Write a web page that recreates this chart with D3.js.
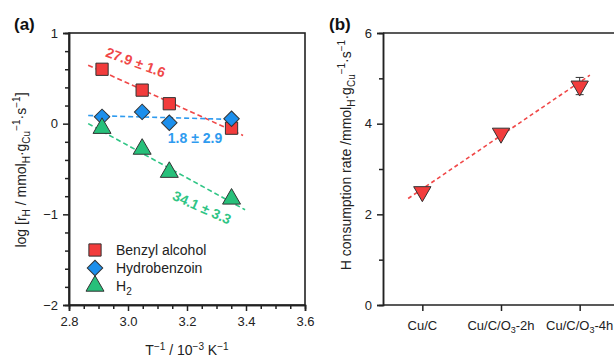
<!DOCTYPE html>
<html>
<head>
<meta charset="utf-8">
<script src="https://cdn.jsdelivr.net/npm/d3@7"></script>
<style>
  body { margin: 0; background: #fff; }
  svg { font-family: Arial, "Liberation Sans", sans-serif; }
</style>
</head>
<body>
<div id="chart"></div>
<script>
// panel (a): Arrhenius-type data
const invT = [2.912, 3.048, 3.14, 3.351];
const benzyl = [0.60, 0.37, 0.22, -0.05];
const hydrobenzoin = [0.075, 0.13, 0.01, 0.055];
const h2 = [-0.05, -0.28, -0.535, -0.83];
// fit line end points [x0, y0, x1, y1]
const fitBenzyl = [2.865, 0.645, 3.39, -0.13];
const fitHydro = [2.865, 0.09, 3.38, 0.045];
const fitH2 = [2.865, 0.0, 3.397, -0.95];
const seriesNames = ["Benzyl alcohol", "Hydrobenzoin", "H2"];

// panel (b): consumption rate
const catalysts = ["Cu/C", "Cu/C/O3-2h", "Cu/C/O3-4h"];
const rates = [2.5, 3.79, 4.83];
const rateErr = [0.05, 0.07, 0.19];
const fitRate = [-0.18, 2.35, 2.13, 5.07];

const W = 614, H = 360;
const svg = d3.select("#chart").append("svg").attr("width", W).attr("height", H);

const red = "#f23c3c", blue = "#1c8fec", green = "#27c07a";
const redL = "#f04848", blueL = "#2f9bef", greenL = "#2fc585";

// ---------- panel (a) ----------
const xa = d3.scaleLinear().domain([2.8, 3.6]).range([69, 305]);
const ya = d3.scaleLinear().domain([-2, 1]).range([305, 33]);
const ga = svg.append("g");

// frame
ga.append("rect").attr("x", 69).attr("y", 33).attr("width", 236).attr("height", 272)
  .attr("fill", "none").attr("stroke", "#222").attr("stroke-width", 1.6);

ga.append("g").attr("transform", "translate(0,305)")
  .call(d3.axisBottom(xa).tickValues([2.8, 3.0, 3.2, 3.4, 3.6]).tickFormat(d3.format(".1f")).tickSize(6).tickPadding(6));
ga.append("g").attr("transform", "translate(0,305)")
  .call(d3.axisBottom(xa).tickValues(d3.range(2.85, 3.6, 0.05).filter(v => Math.abs(v * 5 - Math.round(v * 5)) > 0.01)).tickFormat("").tickSize(4));
ga.append("g").attr("transform", "translate(69,0)")
  .call(d3.axisLeft(ya).tickValues([-2, -1, 0, 1]).tickFormat(d => d < 0 ? "\u2212" + Math.abs(d) : d).tickSize(6).tickPadding(5));
ga.append("g").attr("transform", "translate(69,0)")
  .call(d3.axisLeft(ya).tickValues(d3.range(-1.8, 1, 0.2).filter(v => Math.abs(v - Math.round(v)) > 0.01)).tickFormat("").tickSize(4));

// fit lines
const fits = [[fitBenzyl, redL], [fitHydro, blueL], [fitH2, greenL]];
fits.forEach(([f, c]) => {
  ga.append("line")
    .attr("x1", xa(f[0])).attr("y1", ya(f[1])).attr("x2", xa(f[2])).attr("y2", ya(f[3]))
    .attr("stroke", c).attr("stroke-width", 1.6).attr("stroke-dasharray", "5,3");
});

const sym = {
  sq: d3.symbol().type(d3.symbolSquare).size(150),
  dm: d3.symbol().type(d3.symbolSquare).size(120),
  tr: d3.symbol().type(d3.symbolTriangle).size(140)
};
const rot = { sq: 0, dm: 45, tr: 0 };
function markers(vals, key, fill) {
  ga.selectAll(null).data(vals).enter().append("path")
    .attr("d", sym[key]())
    .attr("transform", (d, i) => `translate(${xa(invT[i])},${ya(d)}) rotate(${rot[key]})`)
    .attr("fill", fill).attr("stroke", "#333").attr("stroke-width", 1);
}
markers(benzyl, "sq", red);
markers(hydrobenzoin, "dm", blue);
markers(h2, "tr", green);

// annotations
ga.append("text").attr("transform", "translate(134,67) rotate(20)")
  .attr("text-anchor", "middle").attr("fill", redL).attr("font-size", 14).attr("font-weight", "bold")
  .text("27.9 \u00b1 1.6");
ga.append("text").attr("x", 195).attr("y", 143)
  .attr("text-anchor", "middle").attr("fill", blueL).attr("font-size", 14).attr("font-weight", "bold")
  .text("1.8 \u00b1 2.9");
ga.append("text").attr("transform", "translate(200,212) rotate(24)")
  .attr("text-anchor", "middle").attr("fill", greenL).attr("font-size", 14).attr("font-weight", "bold")
  .text("34.1 \u00b1 3.3");

// legend
const legKeys = ["sq", "dm", "tr"];
const legFill = [red, blue, green];
seriesNames.forEach((n, i) => {
  const y = 250 + i * 18;
  ga.append("path").attr("d", sym[legKeys[i]]()).attr("transform", `translate(95,${y}) rotate(${rot[legKeys[i]]})`)
    .attr("fill", legFill[i]).attr("stroke", "#333").attr("stroke-width", 1);
  const t = ga.append("text").attr("x", 116).attr("y", y + 5).attr("font-size", 14).attr("fill", "#222");
  if (n === "H2") {
    t.text("H");
    t.append("tspan").attr("font-size", 10).attr("dy", 4).text("2");
  } else t.text(n);
});

// axis labels (a)
const xl = ga.append("text").attr("x", 187).attr("y", 355).attr("text-anchor", "middle").attr("font-size", 14).attr("fill", "#222");
xl.append("tspan").text("T");
xl.append("tspan").attr("font-size", 10).attr("dy", -5).text("\u22121");
xl.append("tspan").attr("dy", 5).text(" / 10");
xl.append("tspan").attr("font-size", 10).attr("dy", -5).text("\u22123");
xl.append("tspan").attr("dy", 5).text(" K");
xl.append("tspan").attr("font-size", 10).attr("dy", -5).text("\u22121");

const yl = ga.append("text").attr("transform", "translate(26,170) rotate(-90)")
  .attr("text-anchor", "middle").attr("font-size", 14).attr("fill", "#222");
yl.append("tspan").text("log [r");
yl.append("tspan").attr("font-size", 10).attr("dy", 4).text("H");
yl.append("tspan").attr("dy", -4).text(" / mmol");
yl.append("tspan").attr("font-size", 10).attr("dy", 4).text("H");
yl.append("tspan").attr("dy", -4).text("\u00b7g");
yl.append("tspan").attr("font-size", 10).attr("dy", 4).text("Cu");
yl.append("tspan").attr("font-size", 10).attr("dy", -10).text("\u22121");
yl.append("tspan").attr("dy", 6).text("\u00b7s");
yl.append("tspan").attr("font-size", 10).attr("dy", -6).text("\u22121");
yl.append("tspan").attr("dy", 6).text("]");

ga.append("text").attr("x", 14).attr("y", 30).attr("font-size", 17).attr("font-weight", "bold").attr("fill", "#111").text("(a)");

// ---------- panel (b) ----------
const xb = d3.scalePoint().domain(catalysts).range([383, 619]).padding(0.5);
const xbi = d3.scaleLinear().domain([0, 2]).range([xb(catalysts[0]), xb(catalysts[2])]);
const yb = d3.scaleLinear().domain([0, 6]).range([305, 33]);
const gb = svg.append("g");

gb.append("line").attr("x1", 383).attr("x2", 620).attr("y1", 33).attr("y2", 33).attr("stroke", "#222").attr("stroke-width", 1.6);
gb.append("g").attr("transform", "translate(0,305)")
  .call(d3.axisBottom(xb).tickSize(6).tickPadding(6).tickFormat(() => ""))
  .call(g => g.select(".domain").attr("d", "M383,0H620"));
gb.append("g").attr("transform", "translate(383,0)")
  .call(d3.axisLeft(yb).tickValues([0, 2, 4, 6]).tickFormat(d3.format("d")).tickSize(6).tickPadding(5));
gb.append("g").attr("transform", "translate(383,0)")
  .call(d3.axisLeft(yb).tickValues([1, 3, 5]).tickFormat("").tickSize(4));

// category labels with subscript
catalysts.forEach(c => {
  const t = gb.append("text").attr("x", xb(c)).attr("y", 330).attr("text-anchor", "middle").attr("font-size", 13).attr("fill", "#222");
  const m = c.match(/^(.*O)3(.*)$/);
  if (m) {
    t.append("tspan").text(m[1]);
    t.append("tspan").attr("font-size", 9).attr("dy", 3).text("3");
    t.append("tspan").attr("dy", -3).text(m[2]);
  } else t.text(c);
});

gb.append("line")
  .attr("x1", xbi(fitRate[0])).attr("y1", yb(fitRate[1])).attr("x2", xbi(fitRate[2])).attr("y2", yb(fitRate[3]))
  .attr("stroke", redL).attr("stroke-width", 1.6).attr("stroke-dasharray", "4,3");

// error bars
catalysts.forEach((c, i) => {
  const x = xb(c);
  gb.append("path")
    .attr("d", `M${x},${yb(rates[i] - rateErr[i])}V${yb(rates[i] + rateErr[i])}M${x - 4},${yb(rates[i] - rateErr[i])}H${x + 4}M${x - 4},${yb(rates[i] + rateErr[i])}H${x + 4}`)
    .attr("stroke", "#333").attr("stroke-width", 1).attr("fill", "none");
});
gb.selectAll(null).data(rates).enter().append("path")
  .attr("d", d3.symbol().type(d3.symbolTriangle).size(130)())
  .attr("transform", (d, i) => `translate(${xb(catalysts[i])},${yb(d)}) rotate(180)`)
  .attr("fill", red).attr("stroke", "#333").attr("stroke-width", 1);

const ylb = gb.append("text").attr("transform", "translate(351,155) rotate(-90)")
  .attr("text-anchor", "middle").attr("font-size", 14).attr("fill", "#222");
ylb.append("tspan").text("H consumption rate /mmol");
ylb.append("tspan").attr("font-size", 10).attr("dy", 4).text("H");
ylb.append("tspan").attr("dy", -4).text("\u00b7g");
ylb.append("tspan").attr("font-size", 10).attr("dy", 4).text("Cu");
ylb.append("tspan").attr("font-size", 10).attr("dy", -10).text("\u22121");
ylb.append("tspan").attr("dy", 6).text("\u00b7s");
ylb.append("tspan").attr("font-size", 10).attr("dy", -6).text("\u22121");

gb.append("text").attr("x", 329).attr("y", 30).attr("font-size", 17).attr("font-weight", "bold").attr("fill", "#111").text("(b)");

// axis styling
svg.selectAll(".tick text").attr("font-size", 13).attr("fill", "#222");
svg.selectAll(".domain, .tick line").attr("stroke", "#222").attr("stroke-width", 1.5);
</script>
</body>
</html>
